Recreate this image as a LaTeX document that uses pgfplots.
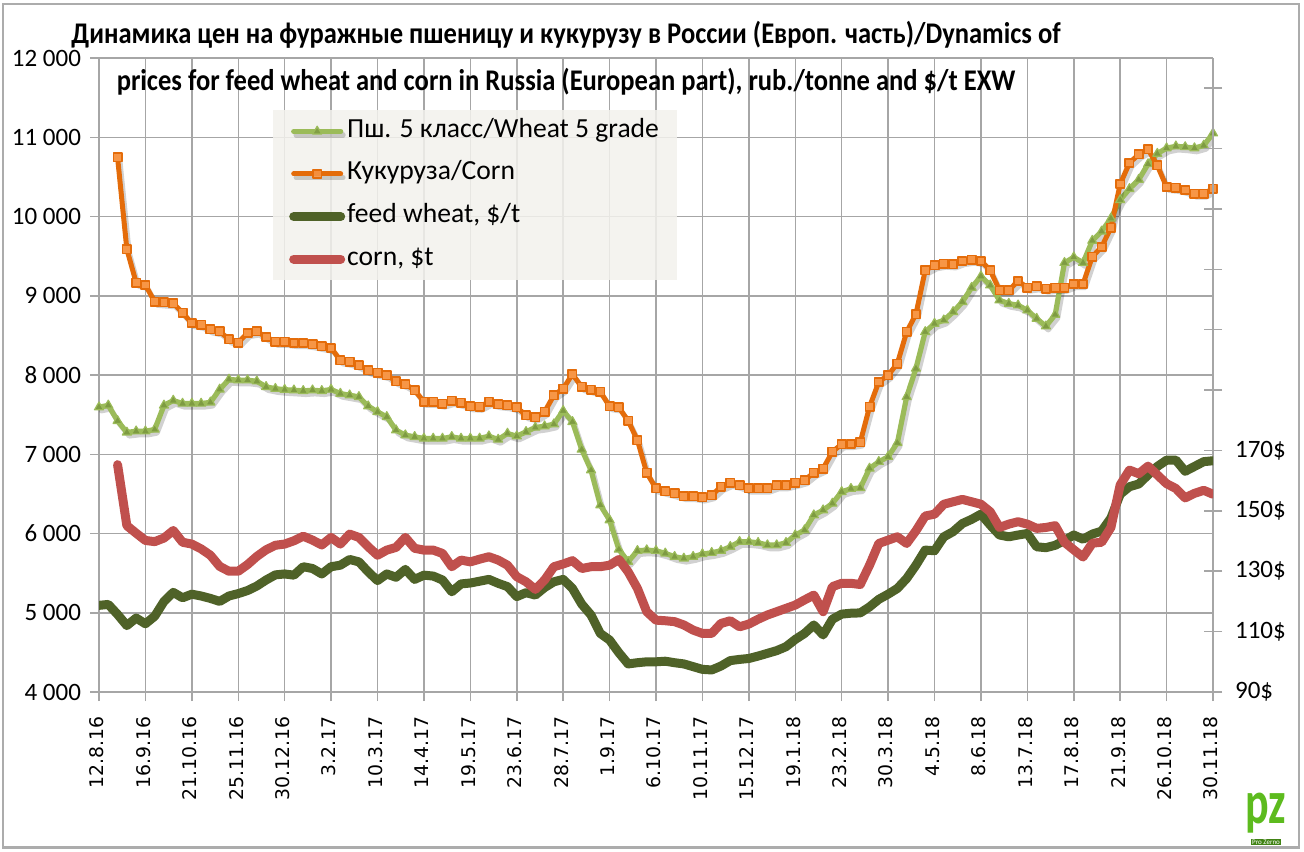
\documentclass[border=0pt]{standalone}
\usepackage{fontspec}
\setmainfont{Carlito}
\newfontfamily\dejavu{DejaVu Sans}
\usepackage{pgfplots}
\pgfplotsset{compat=1.18}
\definecolor{wheat}{HTML}{9BBB59}
\definecolor{wheatmk}{HTML}{77933C}
\definecolor{corn}{HTML}{E46C0A}
\definecolor{cornfill}{HTML}{F79646}
\definecolor{fw}{HTML}{4F6228}
\definecolor{cd}{HTML}{C0504D}
\definecolor{gridc}{HTML}{A6A6A6}
\definecolor{legfill}{HTML}{F3F2ED}
\definecolor{logog}{HTML}{5DBB1E}
\begin{document}
\begin{tikzpicture}
\useasboundingbox (0,0) rectangle (652pt,425.5pt);
\fill[white] (0,0) rectangle (652pt,425.5pt);
\draw[gray!65, line width=1.2pt] (1.5pt,1.8pt) rectangle (649.5pt,423.5pt);
\begin{axis}[
  at={(49.5pt,79.5pt)}, anchor=south west,
  width=557pt, height=317pt, scale only axis,
  xmin=0, xmax=120, ymin=4000, ymax=12000,
  scaled y ticks=false,
  axis x line*=bottom, axis y line*=left,
  axis line style={gridc, line width=0.75pt, -},
  grid=major, grid style={gridc, line width=0.75pt},
  tick style={gridc, line width=0.75pt},
  tick align=outside, major tick length=4.5pt,
  xtick={0,5,...,120},
  xticklabels={12.8.16,16.9.16,21.10.16,25.11.16,30.12.16,3.2.17,10.3.17,14.4.17,19.5.17,23.6.17,28.7.17,1.9.17,6.10.17,10.11.17,15.12.17,19.1.18,23.2.18,30.3.18,4.5.18,8.6.18,13.7.18,17.8.18,21.9.18,26.10.18,30.11.18},
  x tick label style={rotate=90, anchor=east, font=\dejavu\fontsize{9.4}{10}\selectfont, inner sep=1pt, xshift=-6.5pt, yshift=1pt},
  ytick={4000,5000,...,12000},
  yticklabels={4 000,5 000,6 000,7 000,8 000,9 000,10 000,11 000,12 000},
  y tick label style={font=\fontsize{12.5}{14}\selectfont, xshift=-1pt},
  legend style={at={(0.156,0.918)}, anchor=north west, fill=legfill, fill opacity=0.85, text opacity=1, draw=none,
    font=\fontsize{13.8}{15}\selectfont, inner xsep=8pt, inner ysep=3.5pt, row sep=7.3pt,
    nodes={inner sep=1pt, text height=9pt, text depth=3pt}},
  legend cell align=left,
  legend image code/.code={\draw[mark repeat=2,mark phase=2,#1] plot coordinates {(0pt,0pt) (11.75pt,0pt) (23.5pt,0pt)};},
]
\addplot[wheat, line width=2.6pt, line join=round, line cap=round, mark=triangle*, mark size=2.6pt, mark options={fill=wheatmk!80!wheat, draw=wheat, line width=0.6pt},
  preaction={draw=black, draw opacity=0.18, transform canvas={shift={(1.2pt,-1.8pt)}}}]
coordinates {(0,7594)(1,7617)(2,7421)(3,7276)(4,7290)(5,7290)(6,7313)(7,7617)(8,7678)(9,7640)(10,7640)(11,7640)(12,7655)(13,7818)(14,7944)(15,7935)(16,7935)(17,7921)(18,7851)(19,7827)(20,7815)(21,7808)(22,7800)(23,7808)(24,7800)(25,7817)(26,7766)(27,7745)(28,7724)(29,7607)(30,7535)(31,7472)(32,7304)(33,7241)(34,7220)(35,7199)(36,7199)(37,7199)(38,7220)(39,7199)(40,7200)(41,7200)(42,7228)(43,7186)(44,7262)(45,7228)(46,7283)(47,7338)(48,7354)(49,7380)(50,7548)(51,7409)(52,7060)(53,6799)(54,6358)(55,6169)(56,5799)(57,5644)(58,5782)(59,5791)(60,5782)(61,5750)(62,5707)(63,5686)(64,5707)(65,5741)(66,5757)(67,5783)(68,5833)(69,5896)(70,5896)(71,5883)(72,5854)(73,5854)(74,5883)(75,5980)(76,6043)(77,6232)(78,6295)(79,6379)(80,6526)(81,6565)(82,6575)(83,6821)(84,6905)(85,6968)(86,7144)(87,7724)(88,8082)(89,8544)(90,8649)(91,8691)(92,8796)(93,8922)(94,9103)(95,9246)(96,9132)(97,8943)(98,8901)(99,8880)(100,8817)(101,8712)(102,8615)(103,8762)(104,9416)(105,9486)(106,9416)(107,9696)(108,9812)(109,9976)(110,10209)(111,10349)(112,10466)(113,10662)(114,10793)(115,10863)(116,10886)(117,10877)(118,10863)(119,10896)(120,11050)};
\addlegendentry{Пш. 5 класс/Wheat 5 grade}
\addplot[corn, line width=2.5pt, line join=round, line cap=round, mark=square*, mark size=2.1pt, mark options={fill=cornfill, draw=corn, line width=0.8pt},
  preaction={draw=black, draw opacity=0.18, transform canvas={shift={(1.2pt,-1.8pt)}}}]
coordinates {(2,10745)(3,9588)(4,9167)(5,9135)(6,8925)(7,8915)(8,8905)(9,8785)(10,8655)(11,8635)(12,8575)(13,8550)(14,8450)(15,8410)(16,8530)(17,8550)(18,8480)(19,8420)(20,8420)(21,8405)(22,8405)(23,8388)(24,8363)(25,8342)(26,8186)(27,8166)(28,8124)(29,8060)(30,8027)(31,7998)(32,7922)(33,7884)(34,7809)(35,7661)(36,7661)(37,7640)(38,7674)(39,7649)(40,7607)(41,7600)(42,7661)(43,7632)(44,7619)(45,7590)(46,7493)(47,7464)(48,7535)(49,7745)(50,7829)(51,8010)(52,7850)(53,7817)(54,7787)(55,7607)(56,7590)(57,7422)(58,7178)(59,6766)(60,6568)(61,6535)(62,6505)(63,6472)(64,6472)(65,6455)(66,6484)(67,6589)(68,6640)(69,6610)(70,6568)(71,6568)(72,6568)(73,6610)(74,6610)(75,6640)(76,6673)(77,6766)(78,6820)(79,7031)(80,7127)(81,7130)(82,7150)(83,7598)(84,7913)(85,7997)(86,8145)(87,8544)(88,8767)(89,9322)(90,9385)(91,9406)(92,9397)(93,9439)(94,9456)(95,9439)(96,9322)(97,9069)(98,9069)(99,9187)(100,9103)(101,9120)(102,9090)(103,9102)(104,9102)(105,9149)(106,9149)(107,9494)(108,9616)(109,9859)(110,10410)(111,10676)(112,10784)(113,10849)(114,10644)(115,10373)(116,10363)(117,10335)(118,10289)(119,10289)(120,10349)};
\addlegendentry{Кукуруза/Corn}
\addlegendimage{fw, line width=4.5pt, line cap=round}
\addlegendentry{feed wheat, \$/t}
\addlegendimage{cd, line width=4.5pt, line cap=round}
\addlegendentry{corn, \$t}
\end{axis}
\begin{axis}[
  at={(49.5pt,79.5pt)}, anchor=south west,
  width=557pt, height=317pt, scale only axis,
  xmin=0, xmax=120, ymin=90, ymax=300,
  axis x line=none, axis y line*=right,
  axis line style={gridc, line width=0.75pt, -},
  tick style={gridc, line width=0.75pt},
  tick align=center, major tick length=9pt,
  ytick={90,110,...,290},
  yticklabels={90\$,110\$,130\$,150\$,170\$,,,,,,},
  y tick label style={font=\fontsize{12.5}{14}\selectfont, xshift=3pt},
]
\addplot[fw, line width=4.5pt, line join=round, line cap=round]
coordinates {(0,118.7)(1,119.0)(2,115.7)(3,112.0)(4,114.5)(5,112.6)(6,115.1)(7,120.0)(8,123.0)(9,121.2)(10,122.4)(11,121.8)(12,121.0)(13,120.0)(14,121.8)(15,122.6)(16,123.6)(17,125.1)(18,127.1)(19,128.8)(20,129.1)(21,128.7)(22,131.5)(23,130.9)(24,129.1)(25,131.5)(26,132.0)(27,133.9)(28,133.1)(29,129.8)(30,126.9)(31,129.1)(32,128.0)(33,130.6)(34,127.3)(35,128.7)(36,128.4)(37,127.1)(38,123.2)(39,125.8)(40,126.1)(41,126.7)(42,127.3)(43,126.0)(44,124.9)(45,121.6)(46,122.9)(47,122.1)(48,124.6)(49,126.5)(50,127.3)(51,124.3)(52,119.1)(53,115.5)(54,109.4)(55,107.2)(56,103.0)(57,99.3)(58,99.7)(59,100.0)(60,100.0)(61,100.2)(62,99.7)(63,99.3)(64,98.4)(65,97.5)(66,97.3)(67,98.6)(68,100.4)(69,100.8)(70,101.1)(71,101.9)(72,102.8)(73,103.7)(74,105.0)(75,107.4)(76,109.4)(77,112.2)(78,108.9)(79,114.1)(80,115.8)(81,116.1)(82,116.2)(83,118.2)(84,120.7)(85,122.4)(86,124.3)(87,127.6)(88,132.0)(89,137.0)(90,136.8)(91,141.4)(92,143.1)(93,145.8)(94,147.2)(95,148.9)(96,145.3)(97,142.0)(98,141.4)(99,142.0)(100,142.5)(101,138.1)(102,137.8)(103,138.6)(104,140.2)(105,142.0)(106,140.6)(107,142.3)(108,143.3)(109,147.6)(110,155.5)(111,158.0)(112,158.9)(113,161.9)(114,164.7)(115,166.8)(116,166.8)(117,163.1)(118,164.7)(119,166.3)(120,166.6)};
\addplot[cd, line width=4.5pt, line join=round, line cap=round]
coordinates {(2,165.3)(3,145.1)(4,142.6)(5,140.2)(6,139.8)(7,141.0)(8,143.5)(9,139.6)(10,139.0)(11,137.4)(12,135.3)(13,131.6)(14,130.0)(15,130.0)(16,132.2)(17,134.9)(18,137.1)(19,138.6)(20,139.0)(21,140.1)(22,141.6)(23,140.3)(24,138.7)(25,141.2)(26,139.0)(27,142.3)(28,141.2)(29,138.1)(30,135.3)(31,137.0)(32,137.9)(33,141.2)(34,137.6)(35,137.0)(36,137.0)(37,135.9)(38,131.5)(39,133.7)(40,133.1)(41,134.0)(42,134.8)(43,133.7)(44,132.0)(45,128.2)(46,126.5)(47,124.0)(48,127.1)(49,131.5)(50,132.4)(51,133.5)(52,130.9)(53,131.5)(54,131.5)(55,132.0)(56,133.9)(57,129.8)(58,124.3)(59,116.6)(60,113.8)(61,113.6)(62,113.3)(63,112.2)(64,110.5)(65,109.4)(66,109.4)(67,112.7)(68,113.6)(69,111.6)(70,112.5)(71,114.1)(72,115.5)(73,116.6)(74,117.7)(75,118.8)(76,120.5)(77,122.1)(78,116.6)(79,124.9)(80,126.0)(81,126.0)(82,125.6)(83,132.0)(84,139.2)(85,140.3)(86,141.4)(87,139.2)(88,143.4)(89,148.3)(90,148.9)(91,152.2)(92,153.0)(93,153.8)(94,153.0)(95,152.2)(96,149.7)(97,144.5)(98,145.6)(99,146.4)(100,145.6)(101,144.2)(102,144.5)(103,145.1)(104,139.6)(105,137.1)(106,134.7)(107,139.3)(108,139.6)(109,144.5)(110,158.6)(111,163.5)(112,162.3)(113,164.8)(114,161.9)(115,159.0)(116,157.4)(117,154.3)(118,155.8)(119,156.8)(120,155.5)};
\end{axis}
\node[font=\bfseries\fontsize{15}{17}\selectfont, inner sep=0pt] at (283pt,408pt) {\scalebox{0.885}[1]{Динамика цен на фуражные пшеницу и кукурузу в России (Европ. часть)/Dynamics of}};
\node[font=\bfseries\fontsize{15}{17}\selectfont, inner sep=0pt] at (283pt,384.5pt) {\scalebox{0.885}[1]{prices for feed wheat and corn in Russia (European part), rub./tonne and \$/t EXW}};
\node[text=logog, font=\bfseries\fontsize{22}{22}\selectfont, inner sep=0pt] at (633pt,19pt) {\scalebox{1}[1.4]{pz}};
\node[fill=logog!70!black, text=white, font=\fontsize{3.5}{4}\selectfont, inner sep=0.4pt] at (633pt,4.5pt) {Pro Zerno};
\end{tikzpicture}
\end{document}
